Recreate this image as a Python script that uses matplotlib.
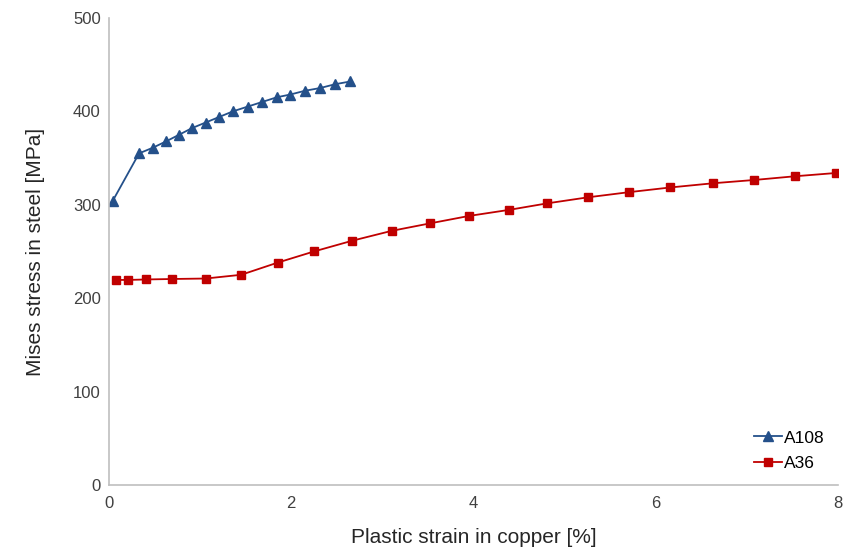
import matplotlib
matplotlib.use("Agg")
import matplotlib.pyplot as plt

plt.rcParams['font.family'] = ['Liberation Sans', 'DejaVu Sans']

a108_x = [0.04, 0.33, 0.48, 0.63, 0.77, 0.91, 1.06, 1.21, 1.36, 1.52, 1.68,
          1.84, 1.99, 2.15, 2.32, 2.48, 2.65]
a108_y = [304, 355, 361, 368, 375, 382, 388, 394, 400, 405, 410,
          415, 418, 422, 425, 429, 432]

a36_x = [0.08, 0.21, 0.41, 0.69, 1.06, 1.45, 1.85, 2.25, 2.67, 3.10, 3.52,
         3.95, 4.39, 4.81, 5.26, 5.71, 6.16, 6.63, 7.08, 7.53, 7.98]
a36_y = [219.5, 219.5, 220, 220.5, 221, 225, 238, 250, 261.5, 272, 280,
         288, 294.5, 301.5, 308, 313.5, 318.5, 323, 326.5, 330.5, 334]

fig = plt.figure(figsize=(8.47, 5.6), dpi=100)
ax = fig.add_axes([0.1287, 0.134, 0.8607, 0.834])

ax.plot(a108_x, a108_y, color='#24508A', marker='^', markersize=6.5, lw=1.3, label='A108')
ax.plot(a36_x, a36_y, color='#C00000', marker='s', markersize=6, lw=1.3, label='A36')

ax.set_xlim(0, 8)
ax.set_ylim(0, 500)
ax.set_xticks([0, 2, 4, 6, 8])
ax.set_yticks([0, 100, 200, 300, 400, 500])
ax.tick_params(length=0, labelsize=12, colors='#404040')
ax.tick_params(axis='y', pad=6)
ax.tick_params(axis='x', pad=8)
for s in ['top', 'right']:
    ax.spines[s].set_visible(False)
for s in ['left', 'bottom']:
    ax.spines[s].set_color('#BFBFBF')
    ax.spines[s].set_linewidth(1.2)

ax.set_xlabel('Plastic strain in copper [%]', fontsize=15, color='#262626', labelpad=12)
ax.set_ylabel('Mises stress in steel [MPa]', fontsize=15, color='#262626', labelpad=20)

ax.legend(loc='lower right', frameon=False, fontsize=12.5, handlelength=1.6,
          handletextpad=0.1, borderaxespad=0.4, labelspacing=0.6)

fig.savefig('out.png', dpi=100)
